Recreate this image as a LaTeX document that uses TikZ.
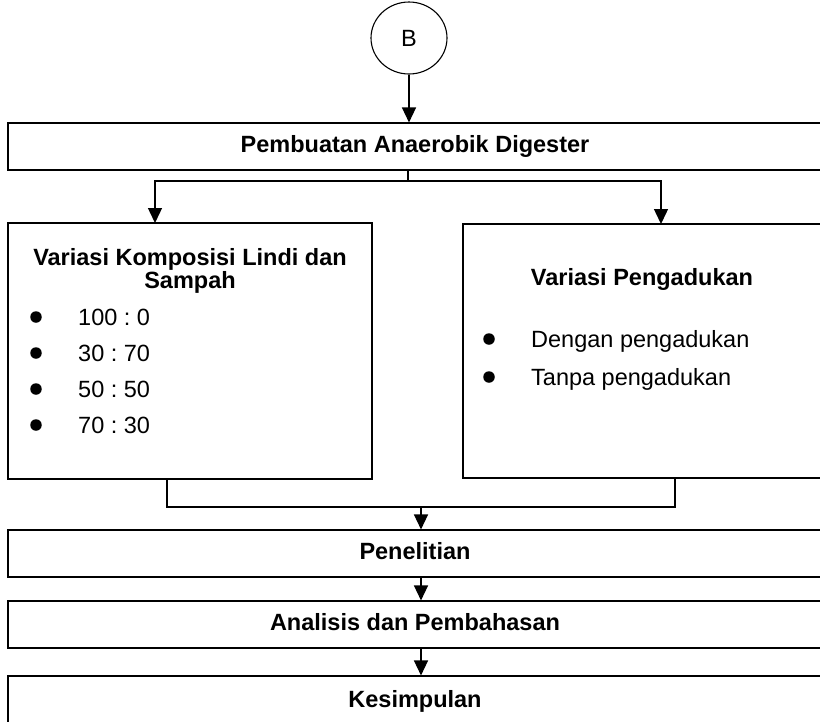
\documentclass[tikz,border=0pt]{standalone}
\usepackage{fontspec}
\setmainfont{Liberation Sans}
\usetikzlibrary{shapes,arrows.meta,calc}

\begin{document}
\frenchspacing
\begin{tikzpicture}[x=1pt,y=-1pt,
    box/.style={draw,rectangle,line width=1.1pt,inner sep=0pt},
    arr/.style={line width=1.4pt,-{Triangle[length=15pt,width=14pt]}},
    conn/.style={line width=1.4pt},
    dot/.style={circle,fill,inner sep=0pt,minimum size=11.5pt},
    txt/.style={font=\fontsize{23.5}{23.5}\selectfont,inner sep=0pt},
    hd/.style={font=\fontsize{23.5}{23.5}\selectfont\bfseries,inner sep=0pt},
    oneline/.style={text height=16.5pt,text depth=4.5pt}]
        \useasboundingbox (0,0) rectangle (820,721);
        \clip (0,0) rectangle (820,721);
        % start connector
        \node[draw,ellipse,line width=1.1pt,minimum width=76pt,minimum height=72pt,txt] (bulB) at (409,38) {B};
        \node[box,hd,oneline,minimum width=814pt,minimum height=47pt] (buat) at (415,146.5) {Pembuatan Anaerobik Digester};
        % variasi komposisi
        \node[box,minimum width=364pt,minimum height=256pt] (komp) at (190,351) {};
        \node[hd,align=center] (kompT) at (190,271) {Variasi Komposisi Lindi dan\\Sampah};
        \foreach \v [count=\i] in {100 : 0, 30 : 70, 50 : 50, 70 : 30}{
            \node[dot] (kdot\i) at (36,{317+36*(\i-1)}) {};
            \node[txt,anchor=base west] (kval\i) at (78,{325+36*(\i-1)}) {\v};
        }
        % variasi pengadukan
        \node[box,minimum width=359pt,minimum height=254pt] (adk) at (642.5,351) {};
        \node[hd,anchor=base] (adkT) at (642,285) {Variasi Pengadukan};
        \foreach \v [count=\i] in {Dengan pengadukan, Tanpa pengadukan}{
            \node[dot] (adot\i) at (489,{339+38*(\i-1)}) {};
            \node[txt,anchor=base west] (aval\i) at (531,{347+38*(\i-1)}) {\v};
        }
        % lower steps
        \node[box,hd,oneline,minimum width=814pt,minimum height=47pt] (penel) at (415,553.5) {Penelitian};
        \node[box,hd,oneline,minimum width=814pt,minimum height=47pt] (anal) at (415,624.5) {Analisis dan Pembahasan};
        \node[box,hd,oneline,minimum width=814pt,minimum height=50pt] (kesim) at (415,701) {Kesimpulan};
        % connectors
        \coordinate (split) at (408,181);
        \coordinate (inL) at (155,223);
        \coordinate (inR) at (661,224);
        \coordinate (outL) at (167,479);
        \coordinate (outR) at (675,478);
        \coordinate (join) at (421,507);
        \draw[arr] (bulB.south) -- (bulB.south |- buat.north);
        \draw[conn] (buat.south -| split) -- (split);
        \draw[arr] (split) -| (inL);
        \draw[arr] (split) -| (inR);
        \draw[conn] (outL) |- (join) -| (outR);
        \draw[arr] (join) -- (join |- penel.north);
        \draw[arr] (penel.south -| join) -- (anal.north -| join);
        \draw[arr] (anal.south -| join) -- (kesim.north -| join);
      \end{tikzpicture}
\end{document}
